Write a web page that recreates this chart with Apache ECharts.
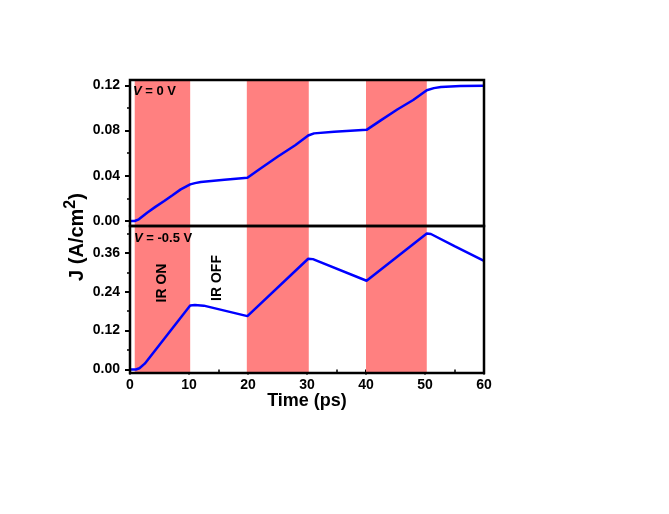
<!DOCTYPE html>
<html><head><meta charset="utf-8">
<script src="https://cdn.jsdelivr.net/npm/echarts@6/dist/echarts.min.js"></script>
<style>html,body{margin:0;padding:0;background:#fff}#c{width:669px;height:514px}</style>
</head><body><div id="c"></div>
<script>
// Top panel, V = 0 V
const timeTop = [0, 0.8, 1.5, 2.9, 4.3, 5.8, 7.2, 8.6, 10.2, 11, 12, 16, 19.9, 22, 25, 28, 30.2, 31.2, 34.6, 40.1, 42.5, 45.3, 48, 50.3, 51.5, 52.7, 56, 60];
const jTop    = [0, 0, 0.0015, 0.0074, 0.0125, 0.0177, 0.0228, 0.028, 0.0324, 0.0335, 0.0345, 0.0365, 0.0383, 0.046, 0.0568, 0.067, 0.0756, 0.0775, 0.079, 0.0806, 0.089, 0.0986, 0.107, 0.1156, 0.1175, 0.1186, 0.1194, 0.1197];
// Bottom panel, V = -0.5 V
const timeBot = [0, 1.0, 1.6, 2.5, 10.2, 11, 12.5, 19.9, 30.2, 31, 40.1, 50.3, 51, 55, 60];
const jBot    = [0, 0, 0.004, 0.018, 0.1975, 0.199, 0.197, 0.1646, 0.3416, 0.3405, 0.2737, 0.4198, 0.418, 0.3806, 0.3354];
// IR ON intervals (ps)
const irOnBands = [[0.8, 10.2], [19.8, 30.3], [40, 50.3]];
// Tick values
const xTicks = [0, 10, 20, 30, 40, 50, 60];
const yTopTicks = [0, 0.04, 0.08, 0.12];
const yTopMinor = [0.02, 0.06, 0.10];
const yBotTicks = [0, 0.12, 0.24, 0.36];
const yBotMinor = [0.06, 0.18, 0.30, 0.42];

const FONT = 'Liberation Sans';
const pair = (xs, ys) => xs.map((x, i) => [x, ys[i]]);
const bands = irOnBands.map(b => [{ xAxis: b[0] }, { xAxis: b[1] }]);

function mainY(grid, min, max, ticks) {
  return {
    type: 'value', gridIndex: grid, min: min, max: max,
    axisLine: { show: false }, splitLine: { show: false },
    axisTick: { show: true, inside: false, length: 5, customValues: ticks, lineStyle: { color: '#000', width: 2 } },
    axisLabel: { show: true, customValues: ticks, margin: 10, color: '#000', fontFamily: FONT, fontWeight: 'bold', fontSize: 14,
      formatter: v => v.toFixed(2) }
  };
}
function minorY(grid, min, max, ticks) {
  return {
    type: 'value', gridIndex: grid, min: min, max: max, position: 'left',
    axisLine: { show: false }, splitLine: { show: false },
    axisTick: { show: true, inside: false, length: 3, customValues: ticks, lineStyle: { color: '#000', width: 1.5 } },
    axisLabel: { show: false }
  };
}

const chart = echarts.init(document.getElementById('c'), null, { renderer: 'canvas' });
chart.setOption({
  animation: false,
  backgroundColor: '#fff',
  grid: [
    { left: 130, right: 185, top: 80, height: 146, show: true, borderColor: '#000', borderWidth: 2.5, z: 5 },
    { left: 130, right: 185, top: 226, height: 147, show: true, borderColor: '#000', borderWidth: 2.5, z: 5 }
  ],
  xAxis: [
    { type: 'value', gridIndex: 0, min: 0, max: 60, interval: 10,
      axisLine: { show: false }, axisTick: { show: false }, axisLabel: { show: false }, splitLine: { show: false } },
    { type: 'value', gridIndex: 1, min: 0, max: 60, interval: 10,
      axisLine: { show: false }, splitLine: { show: false },
      axisTick: { show: true, inside: false, length: 5, lineStyle: { color: '#000', width: 2 } },
      minorTick: { show: true, splitNumber: 2, length: 3, lineStyle: { color: '#000', width: 1.5 } },
      axisLabel: { show: true, margin: 5, color: '#000', fontFamily: FONT, fontWeight: 'bold', fontSize: 14 } }
  ],
  yAxis: [
    mainY(0, -0.0044, 0.1247, yTopTicks),
    minorY(0, -0.0044, 0.1247, yTopMinor),
    mainY(1, -0.0108, 0.4427, yBotTicks),
    minorY(1, -0.0108, 0.4427, yBotMinor)
  ],
  series: [
    { type: 'line', xAxisIndex: 0, yAxisIndex: 0, data: pair(timeTop, jTop), showSymbol: false,
      lineStyle: { color: '#0000FF', width: 2.5 }, z: 3,
      markArea: { silent: true, itemStyle: { color: '#FF8080' }, data: bands } },
    { type: 'line', xAxisIndex: 1, yAxisIndex: 2, data: pair(timeBot, jBot), showSymbol: false,
      lineStyle: { color: '#0000FF', width: 2.5 }, z: 3,
      markArea: { silent: true, itemStyle: { color: '#FF8080' }, data: bands } }
  ],
  graphic: [
    { type: 'text', x: 307, y: 401, z: 10, style: { text: 'Time (ps)', fontFamily: FONT, fontWeight: 'bold', fontSize: 18, fill: '#000', align: 'center', verticalAlign: 'middle' } },
    { type: 'text', x: 77, y: 237, rotation: Math.PI / 2, z: 10,
      style: { text: '{m|J (A/cm}{s|2}{m|)}', align: 'center', verticalAlign: 'middle', fill: '#000',
        rich: { m: { fontFamily: FONT, fontWeight: 'bold', fontSize: 20, lineHeight: 28, fill: '#000' },
                s: { fontFamily: FONT, fontWeight: 'bold', fontSize: 16, lineHeight: 16, verticalAlign: 'top', fill: '#000' } } } },
    { type: 'text', x: 133, y: 91, z: 10,
      style: { text: '{i|V}{n| = 0 V}', align: 'left', verticalAlign: 'middle',
        rich: { i: { fontFamily: FONT, fontWeight: 'bold', fontStyle: 'italic', fontSize: 13, fill: '#000' },
                n: { fontFamily: FONT, fontWeight: 'bold', fontSize: 13, fill: '#000' } } } },
    { type: 'text', x: 134, y: 238, z: 10,
      style: { text: '{i|V}{n| = -0.5 V}', align: 'left', verticalAlign: 'middle',
        rich: { i: { fontFamily: FONT, fontWeight: 'bold', fontStyle: 'italic', fontSize: 13, fill: '#000' },
                n: { fontFamily: FONT, fontWeight: 'bold', fontSize: 13, fill: '#000' } } } },
    { type: 'text', x: 162, y: 283, rotation: Math.PI / 2, z: 10,
      style: { text: 'IR ON', fontFamily: FONT, fontWeight: 'bold', fontSize: 14, fill: '#000', align: 'center', verticalAlign: 'middle' } },
    { type: 'text', x: 217, y: 278, rotation: Math.PI / 2, z: 10,
      style: { text: 'IR OFF', fontFamily: FONT, fontWeight: 'bold', fontSize: 14, fill: '#000', align: 'center', verticalAlign: 'middle' } }
  ]
});
</script>
</body></html>
